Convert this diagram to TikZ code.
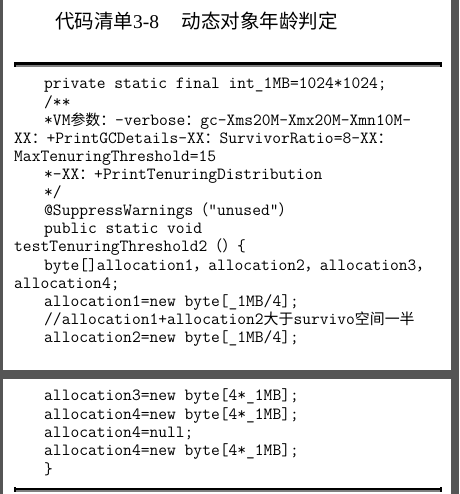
\documentclass[tikz,border=0pt]{standalone}
\usepackage{fontspec}
\setmainfont{Liberation Serif}
\newfontfamily\cjk{Noto Sans CJK SC}
\newcommand\zhc[1]{{\cjk\fontsize{14.9}{18}\selectfont #1}}
\newcommand\zht[1]{{\cjk #1}}
\definecolor{pagegray}{HTML}{555555}
\definecolor{rulegray}{HTML}{808080}
\begin{document}
\begin{tikzpicture}[x=1pt,y=-1pt,
  codeline/.style={anchor=base west, inner sep=0pt, font=\ttfamily\fontsize{17.05}{18}\selectfont},
  titletext/.style={anchor=base west, inner sep=0pt, font=\fontsize{19.5}{22}\selectfont}]
\useasboundingbox (0,0) rectangle (459,494);
% pages
\fill[pagegray] (0,0) rectangle (459,494);
\fill[white] (3.3,0) rectangle (451,370);
\fill[white] (3.3,379) rectangle (451,494);
% title
\node[titletext] (t1) at (55,28.5) {\zht{代码清单}3-8};
\node[titletext] (t2) at (181.7,28.5) {\zht{动态对象年龄判定}};
% top rule
\fill[black] (14,62.3) rectangle (442,65);
\fill[rulegray] (14,65) rectangle (442,66.7);
\fill[black] (14,62) rectangle (15.5,67);
\fill[black] (440,62) rectangle (442,67);
% code block 1
\node[codeline] (l1) at (44,89) {private static final int\_1MB=1024*1024;};
\node[codeline] (l2) at (44,107.1) {/**};
\node[codeline] (l3) at (44,125.2) {*VM\zhc{参数：}-verbose\zhc{：}gc-Xms20M-Xmx20M-Xmn10M-};
\node[codeline] (l4) at (14,143.3) {XX\zhc{：}+PrintGCDetails-XX\zhc{：}SurvivorRatio=8-XX\zhc{：}};
\node[codeline] (l5) at (14,161.4) {MaxTenuringThreshold=15};
\node[codeline] (l6) at (44,179.5) {*-XX\zhc{：}+PrintTenuringDistribution};
\node[codeline] (l7) at (44,197.6) {*/};
\node[codeline] (l8) at (44,215.7) {@SuppressWarnings\zhc{（}"unused"\zhc{）}};
\node[codeline] (l9) at (44,233.8) {public static void};
\node[codeline] (l10) at (14,251.9) {testTenuringThreshold2\zhc{（）}\{};
\node[codeline] (l11) at (44,270) {byte[]allocation1\zhc{，}allocation2\zhc{，}allocation3\zhc{，}};
\node[codeline] (l12) at (14,288.1) {allocation4;};
\node[codeline] (l13) at (44,306.2) {allocation1=new byte[\_1MB/4];};
\node[codeline] (l14) at (44,324.3) {//allocation1+allocation2\zhc{大于}survivo\zhc{空间一半}};
\node[codeline] (l15) at (44,342.4) {allocation2=new byte[\_1MB/4];};
% code block 2
\node[codeline] (m1) at (44,400.7) {allocation3=new byte[4*\_1MB];};
\node[codeline] (m2) at (44,419) {allocation4=new byte[4*\_1MB];};
\node[codeline] (m3) at (44,437.3) {allocation4=null;};
\node[codeline] (m4) at (44,455.6) {allocation4=new byte[4*\_1MB];};
\node[codeline] (m5) at (44,474) {\}};
% bottom rule
\fill[black] (14,487.7) rectangle (442,490.3);
\fill[rulegray] (14,490.3) rectangle (442,492);
\fill[black] (14,487.4) rectangle (15.5,492.3);
\fill[black] (440,487.4) rectangle (442,492.3);
\end{tikzpicture}
\end{document}
